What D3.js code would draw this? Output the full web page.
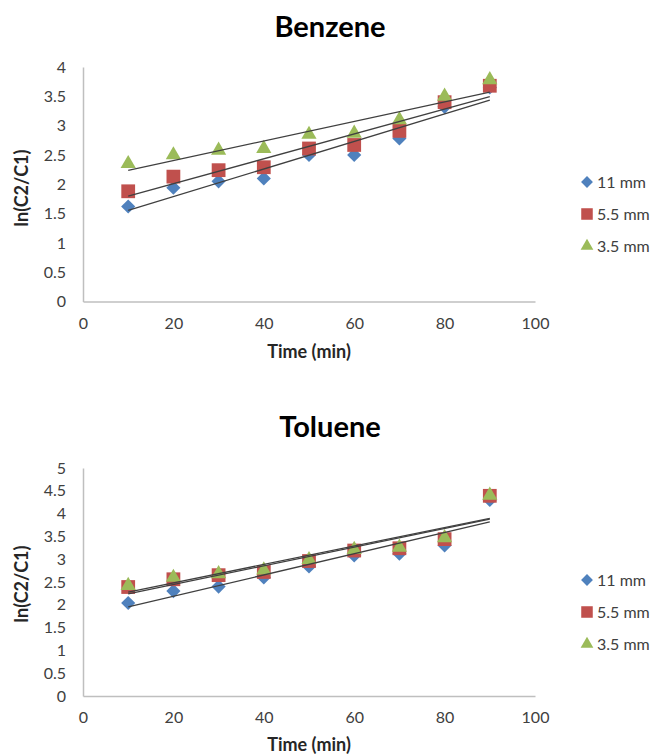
<!DOCTYPE html>
<html>
<head>
<meta charset="utf-8">
<script src="https://cdn.jsdelivr.net/npm/d3@7/dist/d3.min.js"></script>
<style>
  body { margin: 0; background: #fff; }
  text { font-family: Lato, "Open Sans", sans-serif; }
</style>
</head>
<body>
<div id="main"></div>
<script>
// values
const times = [10, 20, 30, 40, 50, 60, 70, 80, 90];
const seriesNames = ["11 mm", "5.5 mm", "3.5 mm"];

const benzene11 = [1.62, 1.94, 2.05, 2.10, 2.50, 2.50, 2.78, 3.32, 3.65];
const benzene55 = [1.88, 2.13, 2.24, 2.29, 2.61, 2.67, 2.91, 3.40, 3.68];
const benzene35 = [2.35, 2.50, 2.58, 2.61, 2.85, 2.87, 3.10, 3.50, 3.78];

const toluene11 = [2.04, 2.30, 2.40, 2.60, 2.84, 3.08, 3.12, 3.30, 4.30];
const toluene55 = [2.39, 2.56, 2.65, 2.72, 2.96, 3.19, 3.24, 3.44, 4.39];
const toluene35 = [2.42, 2.60, 2.68, 2.76, 2.99, 3.21, 3.26, 3.47, 4.40];

const xTicks = [0, 20, 40, 60, 80, 100];
const benzeneYTicks = [0, 0.5, 1, 1.5, 2, 2.5, 3, 3.5, 4];
const tolueneYTicks = [0, 0.5, 1, 1.5, 2, 2.5, 3, 3.5, 4, 4.5, 5];

// excel-ish marker styles, one per series
const markers = [
  { type: d3.symbolSquare, size: 100, rotate: 45, color: "#4F81BD" },
  { type: d3.symbolSquare, size: 190, rotate: 0, color: "#C0504D" },
  { type: d3.symbolTriangle, size: 100, rotate: 0, color: "#9BBB59" }
];

class ScatterTrend {
  constructor(config) {
    this.config = config;
    this.g = config.svg.append("g");
    this.x = null;
    this.y = null;
  }

  createScales() {
    const c = this.config;
    this.x = d3.scaleLinear().domain([0, 100]).range([c.left, c.right]);
    this.y = d3.scaleLinear().domain(d3.extent(c.yTicks)).range([c.bottom, c.top]);
  }

  createAxis() {
    const c = this.config;

    let xAxis = d3.axisBottom(this.x)
      .tickValues(xTicks).tickSize(0).tickSizeOuter(0).tickPadding(16)
      .tickFormat(d3.format("d"));
    let yAxis = d3.axisLeft(this.y)
      .tickValues(c.yTicks).tickSize(0).tickSizeOuter(0).tickPadding(17)
      .tickFormat(d3.format("~g"));

    const gx = this.g.append("g")
      .attr("transform", `translate(0,${c.bottom})`)
      .call(xAxis);
    const gy = this.g.append("g")
      .attr("transform", `translate(${c.left},0)`)
      .call(yAxis);

    [gx, gy].forEach(a => {
      a.attr("font-family", null).attr("font-size", null);
      a.select(".domain").attr("stroke", "#bfbfbf").attr("stroke-width", 1.5);
      a.selectAll("text").style("font-size", "16px").attr("fill", "#404040");
    });

    this.g.append("text")
      .attr("x", 330).attr("y", c.titleY)
      .attr("text-anchor", "middle")
      .style("font-size", "29px").style("font-weight", "bold")
      .attr("fill", "#000")
      .text(c.title);

    this.g.append("text")
      .attr("x", (c.left + c.right) / 2).attr("y", c.xTitleY)
      .attr("text-anchor", "middle")
      .style("font-size", "18px").style("font-weight", "bold")
      .attr("fill", "#262626")
      .text("Time (min)");

    this.g.append("text")
      .attr("transform", `translate(28,${c.yTitleY}) rotate(-90)`)
      .attr("text-anchor", "middle")
      .style("font-size", "18px").style("font-weight", "bold")
      .attr("fill", "#262626")
      .text("ln(C2/C1)");
  }

  drawSeries() {
    const c = this.config;

    c.series.forEach((vals, i) => {
      const m = markers[i];
      this.g.append("g")
        .selectAll("path")
        .data(times.map((t, k) => ({ t: t, v: vals[k] })))
        .enter()
        .append("path")
          .attr("d", d3.symbol().type(m.type).size(m.size))
          .attr("transform", d => `translate(${this.x(d.t)},${this.y(d.v)}) rotate(${m.rotate})`)
          .attr("fill", m.color);
    });

    // linear trendlines (least squares), drawn over the markers
    c.series.forEach(vals => {
      const mx = d3.mean(times), my = d3.mean(vals);
      const sxy = d3.sum(times, (t, k) => (t - mx) * (vals[k] - my));
      const sxx = d3.sum(times, t => (t - mx) * (t - mx));
      const b = sxy / sxx, a = my - b * mx;
      const ends = [d3.min(times), d3.max(times)];
      this.g.append("path")
        .datum(ends)
        .attr("d", d3.line().x(t => this.x(t)).y(t => this.y(a + b * t)))
        .attr("stroke", "#404040")
        .attr("stroke-width", 1.3)
        .attr("fill", "none");
    });
  }

  drawLegend() {
    const c = this.config;
    const rows = this.g.selectAll(".leg")
      .data(seriesNames)
      .enter()
      .append("g")
        .attr("class", "leg")
        .attr("transform", (d, i) => `translate(587,${c.legendY + i * 32})`);

    rows.append("path")
      .attr("d", (d, i) => d3.symbol().type(markers[i].type).size(markers[i].size * 0.7)())
      .attr("transform", (d, i) => `rotate(${markers[i].rotate})`)
      .attr("fill", (d, i) => markers[i].color);

    rows.append("text")
      .attr("x", 10).attr("dy", "0.35em")
      .style("font-size", "16px")
      .attr("fill", "#404040")
      .text(d => d);
  }
}

function main() {
  const svg = d3.select("#main").append("svg")
    .attr("width", 668).attr("height", 754);

  const charts = [
    { svg: svg, title: "Benzene", series: [benzene11, benzene55, benzene35], yTicks: benzeneYTicks,
      left: 83, right: 535, top: 67, bottom: 301.5,
      titleY: 37, xTitleY: 358, yTitleY: 188, legendY: 182 },
    { svg: svg, title: "Toluene", series: [toluene11, toluene55, toluene35], yTicks: tolueneYTicks,
      left: 83, right: 535, top: 468, bottom: 696,
      titleY: 437, xTitleY: 751, yTitleY: 584, legendY: 580 }
  ];

  charts.forEach(c => {
    let ch = new ScatterTrend(c);
    ch.createScales();
    ch.createAxis();
    ch.drawSeries();
    ch.drawLegend();
  });
}

main();
</script>
</body>
</html>
